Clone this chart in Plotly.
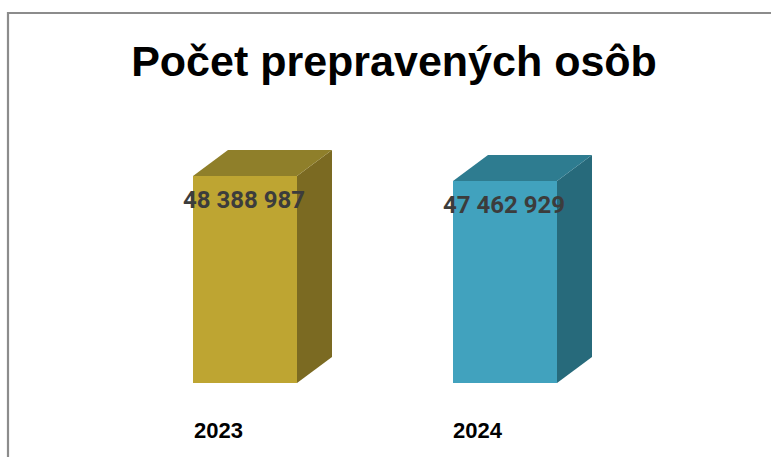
import plotly.graph_objects as go

# ---- data ----
categories = ["2023", "2024"]
values = [48388987, 47462929]
value_labels = ["48 388 987", "47 462 929"]
title_text = "Počet prepravených osôb"

front_colors = ["#BEA532", "#41A2BE"]
top_colors = ["#8F7F2A", "#2E7C90"]
side_colors = ["#7B6A22", "#276A7B"]

# ---- layout geometry ----
W, H = 771, 457
L, R, T, B = 115, 635, 100, 383          # plot area in pixels
Y_MIN = 10_000_000                        # value axis starts here
PX_PER_UNIT = 5.392e-6                    # pixels per person on value axis
Y_MAX = Y_MIN + (B - T) / PX_PER_UNIT
X_RANGE = [-0.5, 1.5]
PX_PER_X = (R - L) / (X_RANGE[1] - X_RANGE[0])
BAR_W = 104 / PX_PER_X
DX = 35 / PX_PER_X                        # depth offset (x units)
DY = 26 / PX_PER_UNIT                     # depth offset (y units)

fig = go.Figure()
xs = list(range(len(categories)))

for i, v in zip(xs, values):
    x0, x1 = i - BAR_W / 2, i + BAR_W / 2
    # side face
    fig.add_trace(go.Scatter(
        x=[x1, x1 + DX, x1 + DX, x1, x1],
        y=[Y_MIN, Y_MIN + DY, v + DY, v, Y_MIN],
        fill="toself", fillcolor=side_colors[i], mode="lines",
        line=dict(width=0, color=side_colors[i]), hoverinfo="skip", showlegend=False))
    # top face
    fig.add_trace(go.Scatter(
        x=[x0, x1, x1 + DX, x0 + DX, x0],
        y=[v, v, v + DY, v + DY, v],
        fill="toself", fillcolor=top_colors[i], mode="lines",
        line=dict(width=0, color=top_colors[i]), hoverinfo="skip", showlegend=False))

# front faces
fig.add_trace(go.Bar(
    x=xs, y=[v - Y_MIN for v in values], base=Y_MIN, width=BAR_W,
    marker=dict(color=front_colors, line=dict(width=0)),
    hoverinfo="skip", showlegend=False))

annotations = []
for i, (v, lab) in enumerate(zip(values, value_labels)):
    annotations.append(dict(
        x=i, y=v, xref="x", yref="y", text=lab, showarrow=False,
        yanchor="middle", yshift=-24, xshift=-1,
        font=dict(family="Roboto", size=24, color="#3C3C3C", weight="bold")))
for i, c in enumerate(categories):
    annotations.append(dict(
        x=i, y=(B - 430) / (B - T), xref="x", yref="paper", text=c,
        showarrow=False, xshift=-27, yanchor="middle",
        font=dict(family="Liberation Sans", size=22, color="#000000", weight="bold")))

# frame (left and top border only visible)
def px_x(p):
    return (p - L) / (R - L)

def px_y(p):
    return (B - p) / (B - T)

shapes = [dict(
    type="path", xref="paper", yref="paper",
    path=f"M {px_x(8)} {px_y(470)} L {px_x(8)} {px_y(13)} L {px_x(790)} {px_y(13)}",
    line=dict(color="#8C8C8C", width=2.2), layer="above")]

fig.update_layout(
    width=W, height=H,
    margin=dict(l=L, r=W - R, t=T, b=H - B, pad=0),
    paper_bgcolor="white", plot_bgcolor="white",
    title=dict(text=title_text, x=394 / W, xanchor="center",
               y=1 - 61 / H, yanchor="middle", yref="container",
               font=dict(family="Liberation Sans", size=43, color="#000000", weight="bold")),
    xaxis=dict(range=X_RANGE, visible=False, fixedrange=True),
    yaxis=dict(range=[Y_MIN, Y_MAX], visible=False, fixedrange=True),
    annotations=annotations, shapes=shapes,
    bargap=0, showlegend=False,
)

fig.write_html("out.html")
